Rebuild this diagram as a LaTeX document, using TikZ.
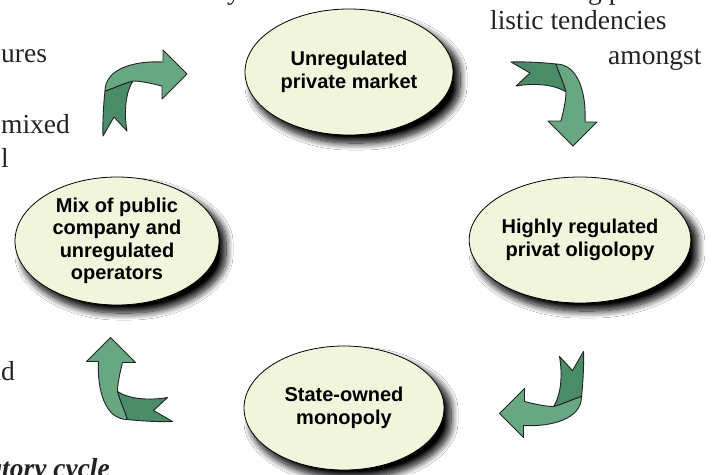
\documentclass[tikz,border=0pt]{standalone}
\usepackage{fontspec}
\setmainfont{Liberation Serif}
\setsansfont{Liberation Sans}
\usetikzlibrary{shapes.geometric,shadows.blur}
\definecolor{ellfill}{RGB}{241,245,220}
\definecolor{lightgreen}{RGB}{103,168,131}
\definecolor{darkgreen}{RGB}{74,139,104}
\definecolor{arrowline}{RGB}{35,35,35}
\definecolor{bgtext}{RGB}{35,35,35}
\newcommand\ribbonarrow[3]{%
  \begin{scope}[shift={(#1,#2)},rotate=#3]
    \filldraw[ribbondark] (-40,-2.5) .. controls (-41.5,10) and (-42.5,30) .. (-42,42.5)
      -- (-31,23.5) -- (-18,37.5) .. controls (-21,20) and (-20,0) .. (-12,-12.5)
      .. controls (-22,-10) and (-32,-5) .. cycle;
    \filldraw[ribbonlight] (-40,-2.5) .. controls (-40,-25) and (-10,-33) .. (18,-31.5)
      -- (18,-43.5) -- (42,-19.5) -- (17,5.5) -- (17,-7.5)
      .. controls (5,-10.5) and (-5,-12.5) .. (-12,-12.5)
      .. controls (-22,-10) and (-32,-5) .. cycle;
  \end{scope}}
\begin{document}
\begin{tikzpicture}[x=1pt,y=-1pt,
  stage/.style={ellipse, draw=black, line width=0.8pt, fill=ellfill, inner sep=0pt,
    align=center, font=\sffamily\bfseries\fontsize{20}{22.5}\selectfont,
    blur shadow={shadow xshift=7pt, shadow yshift=-8pt, shadow blur radius=7pt, shadow blur steps=12, shadow opacity=100, shadow blur extra rounding}},
  bg/.style={font=\fontsize{27.5}{32}\selectfont, inner sep=0pt, text=bgtext},
  ribbondark/.style={fill=darkgreen, draw=arrowline, line width=0.9pt, line join=round},
  ribbonlight/.style={fill=lightgreen, draw=arrowline, line width=0.9pt, line join=round}
]
\useasboundingbox (0,0) rectangle (719,474);
\clip (0,0) rectangle (719,474);
\fill[white] (0,0) rectangle (719,474);

% background text fragments
\node[bg, anchor=base west] (t1) at (1,62) {ures};
\node[bg, anchor=base west] (t2) at (1,133) {mixed};
\node[bg, anchor=base west] (t3) at (1,167) {l};
\node[bg, anchor=base east] (t4) at (15,380) {nd};
\node[bg, anchor=base east, font=\bfseries\itshape\fontsize{27.5}{32}\selectfont] (t5) at (110,477) {regulatory cycle};
\node[bg, anchor=base west] (t6) at (490,29) {listic tendencies};
\node[bg, anchor=base west] (t7) at (608,64) {amongst};
\node[bg, anchor=base west] (t8) at (588,-1) {g p};
\node[bg, anchor=base west] (t9) at (227,-1) {y};

% stages
\node[stage, minimum width=208pt, minimum height=126pt] (top) at (349,72) {Unregulated\\private market};
\node[stage, minimum width=212pt, minimum height=126pt] (right) at (580,240) {Highly regulated\\privat oligolopy};
\node[stage, minimum width=200pt, minimum height=124pt] (bottom) at (344,408) {State-owned\\monopoly};
\node[stage, minimum width=204pt, minimum height=128pt] (left) at (117,241) {Mix of public\\company and\\unregulated\\operators};

% ribbon arrows
\ribbonarrow{145}{93.5}{0}
\ribbonarrow{553.5}{104}{-90}
\ribbonarrow{541.5}{394}{180}
\ribbonarrow{130}{379.5}{90}
\end{tikzpicture}
\end{document}
